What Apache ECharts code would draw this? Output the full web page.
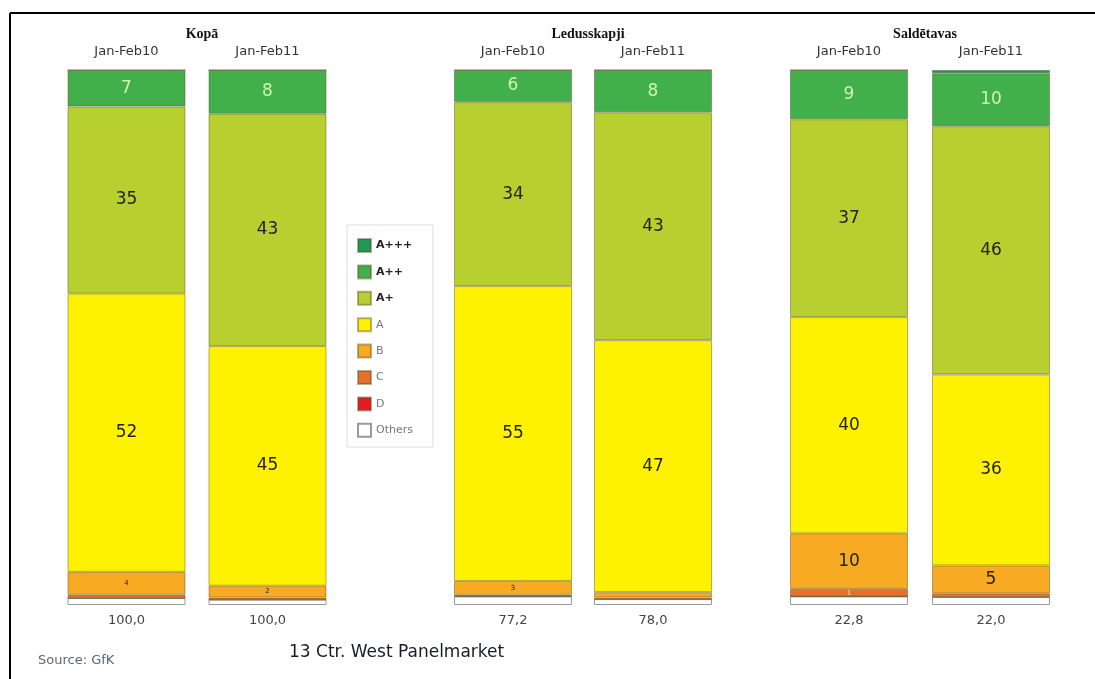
<!DOCTYPE html>
<html>
<head>
<meta charset="utf-8">
<script src="https://cdn.jsdelivr.net/npm/echarts@6/dist/echarts.min.js"></script>
<style>html,body{margin:0;padding:0;background:#fff;}#c{width:1095px;height:679px;}</style>
</head>
<body>
<div id="c"></div>
<script>
// Groups and periods
var groups = ['Kopā', 'Ledusskapji', 'Saldētavas'];
var periods = ['Jan-Feb10', 'Jan-Feb11'];
// Totals shown under each bar (order: Kop10, Kop11, Led10, Led11, Sol10, Sol11)
var totals = ['100,0', '100,0', '77,2', '78,0', '22,8', '22,0'];
// Energy class shares (%) per bar, same order as totals
var classNames = ['A+++', 'A++', 'A+', 'A', 'B', 'C', 'D', 'Others'];
var aPPP = [0, 0, 0, 0, 0, 0.6];
var aPP  = [6.8, 8.2, 6.0, 7.9, 9.2, 9.9];
var aP   = [35.0, 43.4, 34.4, 42.6, 37.0, 46.4];
var aA   = [52.0, 44.8, 55.1, 47.1, 40.4, 35.7];
var bB   = [4.3, 2.2, 2.6, 1.0, 10.4, 5.2];
var cC   = [0.6, 0.4, 0.3, 0.3, 1.4, 0.7];
var dD   = [0, 0, 0, 0, 0, 0];
var oth  = [1.3, 1.0, 1.6, 1.1, 1.6, 1.5];

var classData = {'A+++': aPPP, 'A++': aPP, 'A+': aP, 'A': aA, 'B': bB, 'C': cC, 'D': dD, 'Others': oth};
var colors = {'A+++': '#1c9a55', 'A++': '#41b04a', 'A+': '#b8cf30', 'A': '#fff200', 'B': '#f7aa22', 'C': '#e8702a', 'D': '#e31b23', 'Others': '#ffffff'};
var labelColors = {'A+++': '#d8f7c0', 'A++': '#d0f5b0', 'A+': '#222', 'A': '#222', 'B': '#222', 'C': '#fbe0c8', 'D': '#fff', 'Others': '#222'};
var stackOrder = ['Others', 'D', 'C', 'B', 'A', 'A+', 'A++', 'A+++'];

var gridDefs = [
  {left: 56, width: 282},
  {left: 443, width: 280},
  {left: 778, width: 284}
];

var font = 'DejaVu Sans';
var grids = [], xAxes = [], yAxes = [], series = [];
gridDefs.forEach(function (g, gi) {
  grids.push({left: g.left, width: g.width, top: 70, height: 535});
  xAxes.push({
    type: 'category', gridIndex: gi, position: 'top', data: periods,
    axisLine: {show: false}, axisTick: {show: false},
    axisLabel: {color: '#333', fontFamily: font, fontSize: 13, margin: 12}
  });
  xAxes.push({
    type: 'category', gridIndex: gi, position: 'bottom',
    data: [totals[gi * 2], totals[gi * 2 + 1]],
    axisLine: {show: false}, axisTick: {show: false},
    axisLabel: {color: '#444', fontFamily: font, fontSize: 13, margin: 9}
  });
  yAxes.push({type: 'value', gridIndex: gi, min: 0, max: 100, show: false});
  stackOrder.forEach(function (name) {
    var vals = classData[name];
    series.push({
      name: name, type: 'bar', stack: 'g' + gi,
      xAxisIndex: gi * 2, yAxisIndex: gi,
      barWidth: 118,
      data: [vals[gi * 2], vals[gi * 2 + 1]].map(function (v) {
        var big = v >= 5;
        var small = v >= 1.3 && v < 5;
        return {
          value: v,
          label: {
            show: name !== 'Others' && (big || small),
            fontSize: big ? 17 : 7,
            color: labelColors[name]
          }
        };
      }),
      itemStyle: {
        color: colors[name],
        borderColor: name === 'Others' ? '#9a9a9a' : 'rgba(90,80,30,0.45)',
        borderWidth: 1
      },
      label: {
        position: 'inside', fontFamily: font,
        formatter: function (p) { return String(Math.round(p.value)); }
      },
      emphasis: {disabled: true}
    });
  });
});

var legendData = classNames.map(function (n, i) {
  return {
    name: n,
    textStyle: i < 3 ? {fontWeight: 'bold', color: '#222'} : {fontWeight: 'normal', color: '#777'}
  };
});

var chart = echarts.init(document.getElementById('c'));
chart.setOption({
  animation: false,
  backgroundColor: '#fff',
  grid: grids,
  xAxis: xAxes,
  yAxis: yAxes,
  series: series,
  legend: {
    data: legendData, orient: 'vertical', left: 352, top: 233,
    itemWidth: 13, itemHeight: 13, itemGap: 11.4, icon: 'rect',
    textStyle: {fontFamily: font, fontSize: 11, lineHeight: 13},
    selectedMode: false
  },
  title: [
    {text: groups[0], left: 197, top: 22, textAlign: 'center',
     textStyle: {fontFamily: 'Liberation Serif', fontSize: 14, fontWeight: 'bold', color: '#111'}},
    {text: groups[1], left: 583, top: 22, textAlign: 'center',
     textStyle: {fontFamily: 'Liberation Serif', fontSize: 14, fontWeight: 'bold', color: '#111'}},
    {text: groups[2], left: 920, top: 22, textAlign: 'center',
     textStyle: {fontFamily: 'Liberation Serif', fontSize: 14, fontWeight: 'bold', color: '#111'}},
    {text: '13 Ctr. West Panelmarket', left: 284, top: 639,
     textStyle: {fontFamily: font, fontSize: 17, fontWeight: 'normal', color: '#1a1a2a'}},
    {text: 'Source: GfK', left: 33, top: 649,
     textStyle: {fontFamily: font, fontSize: 13, fontWeight: 'normal', color: '#5a6878'}}
  ],
  graphic: [
    {type: 'rect', shape: {x: 347, y: 225, width: 86, height: 222},
     style: {fill: 'none', stroke: '#dddddd', lineWidth: 1}, z: 0},
    {type: 'line', shape: {x1: 10, y1: 13, x2: 1095, y2: 13},
     style: {stroke: '#000', lineWidth: 2}},
    {type: 'line', shape: {x1: 10, y1: 13, x2: 10, y2: 679},
     style: {stroke: '#000', lineWidth: 2}}
  ]
});
</script>
</body>
</html>
